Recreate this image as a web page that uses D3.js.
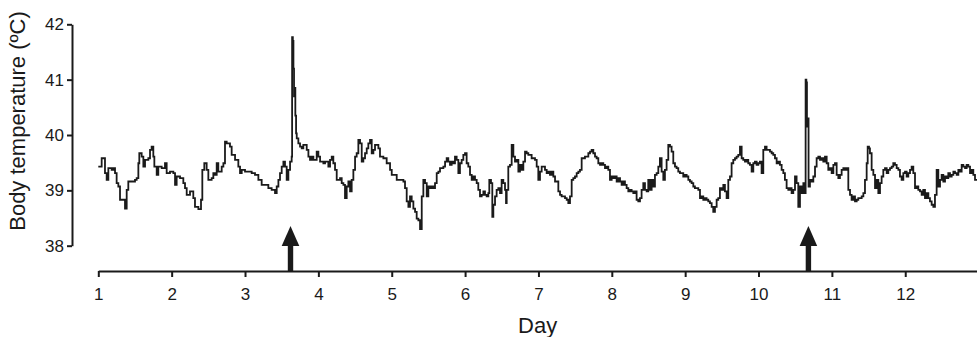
<!DOCTYPE html>
<html><head><meta charset="utf-8">
<script src="https://cdn.jsdelivr.net/npm/d3@7"></script>
<style>
html,body{margin:0;padding:0;background:#fff;}
svg{display:block;font-family:"Liberation Sans",Arial,sans-serif;}
</style></head>
<body><svg id="chart" width="977" height="337"></svg>
<script>
// ---- data ----
const day = [
1.000,1.046,1.091,1.114,1.137,1.182,1.205,1.228,1.250,1.273,
1.296,1.341,1.364,1.387,1.409,1.455,1.500,1.523,1.546,1.559,
1.591,1.614,1.637,1.682,1.705,1.727,1.750,1.764,1.796,1.818,
1.864,1.909,1.932,1.977,2.023,2.046,2.068,2.114,2.159,2.182,
2.205,2.250,2.295,2.318,2.364,2.400,2.418,2.445,2.477,2.500,
2.545,2.568,2.591,2.614,2.636,2.682,2.705,2.727,2.750,2.795,
2.818,2.864,2.909,2.932,2.955,3.000,3.045,3.091,3.136,3.182,
3.227,3.273,3.318,3.363,3.409,3.432,3.455,3.477,3.500,3.523,
3.545,3.568,3.591,3.614,3.636,3.642,3.652,3.660,3.668,3.676,
3.686,3.696,3.705,3.727,3.750,3.773,3.795,3.818,3.841,3.864,
3.886,3.909,3.932,3.977,4.000,4.023,4.068,4.091,4.136,4.159,
4.182,4.204,4.227,4.250,4.295,4.318,4.341,4.363,4.386,4.409,
4.432,4.454,4.477,4.500,4.522,4.545,4.568,4.591,4.613,4.636,
4.659,4.681,4.704,4.727,4.750,4.772,4.795,4.818,4.840,4.886,
4.931,4.977,5.000,5.045,5.068,5.113,5.159,5.181,5.204,5.227,
5.249,5.272,5.295,5.318,5.340,5.363,5.386,5.409,5.431,5.454,
5.477,5.499,5.522,5.545,5.567,5.590,5.613,5.636,5.658,5.704,
5.727,5.749,5.771,5.794,5.817,5.840,5.862,5.885,5.908,5.930,
5.953,5.976,5.999,6.021,6.044,6.067,6.090,6.112,6.135,6.158,
6.180,6.203,6.226,6.249,6.271,6.294,6.317,6.330,6.353,6.371,
6.385,6.408,6.430,6.453,6.476,6.498,6.521,6.544,6.558,6.567,
6.589,6.612,6.635,6.658,6.680,6.703,6.726,6.748,6.771,6.794,
6.817,6.839,6.862,6.907,6.953,6.976,6.998,7.021,7.044,7.089,
7.112,7.135,7.157,7.180,7.203,7.226,7.248,7.271,7.294,7.316,
7.362,7.385,7.407,7.430,7.453,7.475,7.498,7.521,7.544,7.566,
7.589,7.634,7.680,7.703,7.725,7.748,7.771,7.793,7.816,7.839,
7.862,7.884,7.907,7.930,7.952,7.975,7.998,8.021,8.043,8.066,
8.089,8.112,8.134,8.156,8.179,8.202,8.225,8.247,8.270,8.293,
8.315,8.338,8.361,8.384,8.406,8.429,8.452,8.475,8.497,8.520,
8.543,8.565,8.588,8.611,8.634,8.656,8.679,8.702,8.724,8.747,
8.770,8.793,8.815,8.838,8.861,8.883,8.906,8.929,8.974,8.997,
9.020,9.043,9.065,9.088,9.111,9.133,9.179,9.202,9.224,9.247,
9.270,9.292,9.315,9.338,9.361,9.383,9.406,9.429,9.451,9.474,
9.497,9.520,9.542,9.565,9.588,9.611,9.633,9.656,9.679,9.701,
9.724,9.747,9.770,9.792,9.815,9.838,9.860,9.883,9.906,9.929,
9.951,9.974,9.997,10.019,10.042,10.065,10.088,10.110,10.156,10.179,
10.201,10.224,10.247,10.270,10.292,10.315,10.338,10.360,10.383,10.406,
10.429,10.451,10.474,10.497,10.519,10.542,10.565,10.588,10.611,10.633,
10.642,10.652,10.660,10.670,10.682,10.701,10.724,10.747,10.770,10.792,
10.815,10.838,10.861,10.883,10.906,10.929,10.951,10.974,10.997,11.020,
11.042,11.065,11.088,11.110,11.133,11.156,11.179,11.201,11.224,11.247,
11.269,11.292,11.315,11.338,11.360,11.406,11.429,11.451,11.474,11.488,
11.506,11.519,11.542,11.565,11.588,11.610,11.633,11.656,11.678,11.701,
11.724,11.747,11.769,11.792,11.815,11.837,11.860,11.883,11.906,11.928,
11.951,11.974,11.997,12.019,12.042,12.065,12.087,12.110,12.133,12.156,
12.178,12.201,12.224,12.246,12.269,12.292,12.315,12.337,12.360,12.383,
12.405,12.428,12.451,12.474,12.496,12.519,12.542,12.565,12.587,12.610,
12.633,12.656,12.678,12.701,12.724,12.746,12.769,12.792,12.815,12.837,
12.860,12.883,12.905,12.928,12.951,12.978
];
const temp = [
39.43,39.58,39.31,39.19,39.40,39.37,39.40,39.31,39.13,39.07,
38.83,38.83,38.67,39.01,39.16,39.16,39.19,39.22,39.49,39.67,
39.61,39.43,39.55,39.58,39.73,39.79,39.61,39.43,39.28,39.43,
39.40,39.49,39.31,39.34,39.31,39.10,39.25,39.22,39.13,39.04,
38.92,38.98,38.86,38.70,38.66,38.83,39.37,39.49,39.37,39.19,
39.22,39.31,39.28,39.49,39.34,39.43,39.49,39.88,39.85,39.79,
39.64,39.55,39.43,39.31,39.37,39.34,39.34,39.31,39.28,39.19,
39.10,39.10,39.04,39.01,38.95,39.07,39.19,39.31,39.43,39.52,
39.43,39.19,39.37,39.52,39.61,41.77,41.70,41.20,40.70,40.85,
40.35,40.03,39.94,39.85,39.79,39.76,39.82,39.82,39.73,39.61,
39.55,39.61,39.55,39.70,39.61,39.52,39.49,39.52,39.43,39.55,
39.61,39.49,39.37,39.19,39.22,39.13,39.10,38.86,39.07,39.16,
38.98,39.19,39.37,39.61,39.67,39.91,39.85,39.52,39.58,39.67,
39.76,39.85,39.91,39.67,39.73,39.82,39.82,39.76,39.61,39.58,
39.49,39.37,39.28,39.28,39.19,39.19,39.16,39.04,38.80,38.70,
38.89,38.80,38.67,38.61,38.49,38.46,38.30,38.89,39.19,39.13,
38.89,39.07,39.04,39.07,39.04,39.13,39.31,39.34,39.40,39.43,
39.52,39.58,39.52,39.46,39.52,39.49,39.61,39.55,39.31,39.49,
39.55,39.64,39.67,39.49,39.43,39.28,39.19,39.25,39.19,39.13,
39.01,38.89,38.92,38.98,38.92,38.89,38.95,39.19,39.13,38.52,
38.74,38.89,39.01,39.04,38.95,39.19,39.13,39.01,38.77,39.01,
39.43,39.46,39.82,39.61,39.52,39.55,39.34,39.46,39.37,39.52,
39.70,39.67,39.64,39.58,39.55,39.43,39.19,39.34,39.43,39.37,
39.31,39.34,39.28,39.34,39.25,39.16,39.16,38.98,38.92,38.89,
38.86,38.83,38.77,38.89,39.19,39.22,39.25,39.31,39.34,39.37,
39.58,39.61,39.67,39.70,39.73,39.67,39.61,39.58,39.49,39.46,
39.49,39.46,39.40,39.43,39.37,39.19,39.25,39.22,39.25,39.16,
39.22,39.16,39.10,39.16,39.10,39.04,38.98,39.01,38.98,38.95,
38.98,38.83,38.80,38.86,39.01,39.13,39.01,38.98,39.19,39.01,
39.19,39.07,39.28,39.31,39.43,39.58,39.34,39.19,39.37,39.55,
39.82,39.79,39.70,39.49,39.43,39.40,39.34,39.31,39.25,39.28,
39.25,39.19,39.16,39.13,39.07,39.04,39.01,38.86,38.89,38.83,
38.86,38.83,38.80,38.77,38.70,38.61,38.70,38.83,38.86,39.04,
39.01,39.10,38.98,38.86,39.19,39.25,39.49,39.55,39.58,39.61,
39.64,39.79,39.58,39.55,39.52,39.55,39.49,39.46,39.34,39.49,
39.52,39.46,39.49,39.52,39.31,39.73,39.79,39.73,39.70,39.67,
39.64,39.58,39.49,39.52,39.46,39.37,39.31,39.19,39.04,39.01,
39.04,38.95,39.01,39.25,39.13,38.70,39.07,38.95,39.13,38.95,
41.00,40.95,40.15,40.30,39.07,39.19,39.16,39.25,39.43,39.58,
39.61,39.55,39.58,39.52,39.61,39.49,39.37,39.40,39.31,39.46,
39.49,39.28,39.22,39.28,39.37,39.40,39.37,39.40,39.01,38.92,
38.83,38.89,38.80,38.83,38.86,38.89,38.95,39.19,39.49,39.79,
39.76,39.67,39.37,39.28,39.04,39.19,38.95,39.13,39.25,39.37,
39.40,39.31,39.37,39.40,39.43,39.49,39.46,39.40,39.37,39.25,
39.19,39.31,39.34,39.25,39.31,39.37,39.43,39.31,39.04,39.07,
39.01,38.98,38.92,39.01,38.86,38.95,38.86,38.80,38.74,38.70,
38.92,39.37,39.07,39.19,39.28,39.16,39.25,39.22,39.31,39.25,
39.28,39.34,39.31,39.28,39.37,39.34,39.46,39.43,39.40,39.46,
39.43,39.31,39.37,39.28,39.19,39.19
];
const xTicks = [1,2,3,4,5,6,7,8,9,10,11,12];
const yTicks = [38,39,40,41,42];
const arrowDays = [3.62, 10.68];
const xLabel = "Day";
const yLabel = "Body temperature (ºC)";

// ---- drawing ----
const svg = d3.select("#chart");
const x = d3.scaleLinear().domain([1, 13]).range([98.3, 978.6]);
const y = d3.scaleLinear().domain([38, 42]).range([245.7, 24.3]);
const axisY = 271;
const ink = "#1a1a1a";

const pts = day.map((d, i) => [d, temp[i]]);
svg.append("path")
  .datum(pts)
  .attr("fill", "none")
  .attr("stroke", ink)
  .attr("stroke-width", 1.8)
  .attr("stroke-linejoin", "miter")
  .attr("d", d3.line().x(d => x(d[0])).y(d => y(d[1])).curve(d3.curveStepAfter));

// y axis
const gy = svg.append("g").attr("transform", "translate(72,0)")
  .call(d3.axisLeft(y).tickValues(yTicks).tickSize(5).tickSizeOuter(0).tickPadding(3).tickFormat(d3.format("d")));
gy.select(".domain").attr("stroke", ink).attr("stroke-width", 2);
gy.selectAll(".tick line").attr("stroke", ink).attr("stroke-width", 2);
gy.selectAll(".tick text").attr("fill", ink).style("font-size", "17px").style("font-family", "Liberation Sans, Arial, sans-serif");

// x axis
const gx = svg.append("g").attr("transform", `translate(0,${axisY})`)
  .call(d3.axisBottom(x).tickValues(xTicks).tickSize(6).tickSizeOuter(0).tickPadding(11).tickFormat(d3.format("d")));
gx.select(".domain").attr("stroke", ink).attr("stroke-width", 2);
gx.selectAll(".tick line").attr("stroke", ink).attr("stroke-width", 2);
gx.selectAll(".tick text").attr("fill", ink).style("font-size", "17px").style("font-family", "Liberation Sans, Arial, sans-serif");

// arrows
const arrows = svg.append("g").attr("fill", ink);
arrowDays.forEach(d => {
  const cx = x(d);
  arrows.append("rect").attr("x", cx - 2.7).attr("y", 244).attr("width", 5.4).attr("height", axisY - 244);
  arrows.append("path").attr("d", `M${cx},226 L${cx + 8.8},246 L${cx - 8.8},246 Z`);
});

// axis titles
svg.append("text").attr("x", (x(1) + 977) / 2).attr("y", 333)
  .attr("text-anchor", "middle").attr("fill", ink).style("font-size", "22px").text(xLabel);
svg.append("text").attr("transform", "translate(25,121) rotate(-90)")
  .attr("text-anchor", "middle").attr("fill", ink).style("font-size", "22px").text(yLabel);
</script>
</body></html>
